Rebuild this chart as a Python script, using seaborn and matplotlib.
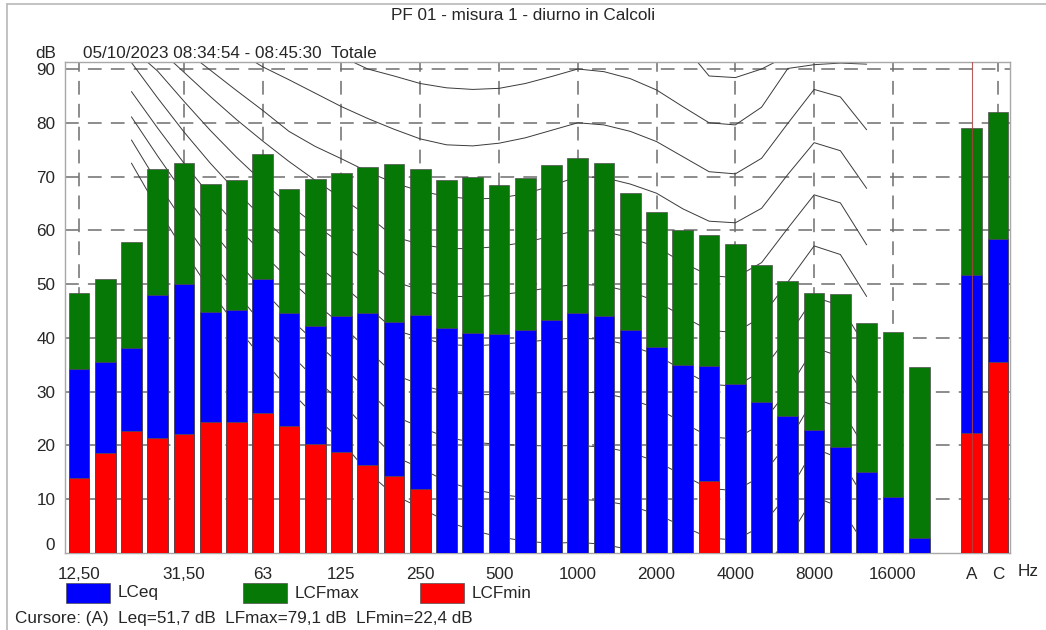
import numpy as np
import seaborn as sns
import matplotlib.pyplot as plt
from matplotlib.patches import Rectangle
from matplotlib.lines import Line2D

# third-octave bands, then the A and C overall values
bands = ["12,5", "16", "20", "25", "31,5", "40", "50", "63", "80", "100", "125", "160",
         "200", "250", "315", "400", "500", "630", "800", "1000", "1250", "1600", "2000",
         "2500", "3150", "4000", "5000", "6300", "8000", "10000", "12500", "16000", "20000"]
totals = ["A", "C"]

lcfmax = [48.4, 51.0, 57.9, 71.4, 72.6, 68.6, 69.3, 74.2, 67.6, 69.6, 70.7, 71.7, 72.3,
          71.4, 69.4, 70.0, 68.4, 69.7, 72.1, 73.4, 72.5, 67.0, 63.5, 60.0, 59.2, 57.5,
          53.5, 50.6, 48.3, 48.1, 42.8, 41.1, 34.6]
lceq = [34.3, 35.6, 38.2, 47.9, 50.1, 44.8, 45.1, 51.0, 44.7, 42.2, 44.0, 44.7, 43.0,
        44.3, 41.8, 40.9, 40.8, 41.4, 43.3, 44.7, 44.0, 41.4, 38.3, 34.9, 34.8, 31.4,
        28.0, 25.5, 22.9, 19.7, 15.1, 10.5, 2.7]
lcfmin = [13.9, 18.6, 22.6, 21.4, 22.1, 24.4, 24.3, 26.1, 23.7, 20.2, 18.7, 16.4, 14.3,
          11.9, None, None, None, None, None, None, None, None, None, None, 13.4, None,
          None, None, None, None, None, None, None]

tot_max = [79.1, 82.0]
tot_eq = [51.7, 58.4]
tot_min = [22.4, 35.6]

# equal loudness curves, 20 Hz .. 12500 Hz
curve_bands = bands[2:31]
phon_0 = [72.5, 64.0, 56.2, 48.8, 42.2, 36.0, 30.4, 25.4, 20.8, 15.0, 10.8, 8.4, 5.9, 4.2,
          3.0, 2.2, 1.8, 2.0, 1.6, 0.6, -1.0, -3.0, -5.0, -5.3, -3.0, 2.5, 10.5, 8.5, 1.0]
phon_10 = [76.8, 68.8, 61.4, 54.5, 48.3, 42.5, 37.2, 32.4, 28.0, 22.8, 18.0, 15.8, 13.3,
           11.8, 10.9, 10.3, 10.0, 10.0, 9.7, 8.8, 7.2, 5.0, 2.8, 2.4, 5.0, 11.0, 19.5, 17.5, 9.5]
phon_20 = [81.1, 73.8, 66.8, 60.3, 54.4, 48.9, 43.8, 39.2, 34.9, 30.2, 25.5, 23.4, 21.5,
           20.6, 20.2, 20.0, 19.9, 20.0, 19.7, 18.7, 17.0, 14.5, 12.0, 11.6, 14.3, 20.5, 28.8, 27.0, 19.0]
phon_30 = [85.8, 79.0, 72.5, 66.4, 60.8, 55.7, 50.9, 46.5, 42.4, 37.8, 33.2, 31.3, 29.9,
           29.4, 29.5, 29.7, 29.9, 30.0, 29.7, 28.6, 26.9, 24.3, 21.6, 21.2, 24.0, 30.3, 38.2, 36.5, 28.5]
phon_40 = [91.2, 84.6, 78.3, 72.5, 67.2, 62.3, 57.8, 53.7, 49.9, 45.8, 41.5, 40.0, 38.8,
           38.5, 38.8, 39.2, 39.7, 40.0, 39.7, 38.6, 36.8, 34.0, 31.4, 31.0, 33.8, 40.2, 47.6, 46.0, 38.0]
phon_50 = [93.9, 89.6, 84.0, 78.6, 73.6, 69.0, 64.8, 61.0, 57.5, 54.0, 50.5, 48.9, 47.8,
           47.6, 48.0, 48.6, 49.4, 50.0, 49.7, 48.6, 46.8, 44.0, 41.4, 41.0, 43.9, 50.4, 57.1, 55.5, 47.7]
phon_60 = [98.5, 93.9, 89.4, 84.9, 80.6, 76.6, 72.8, 69.3, 66.0, 62.7, 58.8, 57.4, 56.6,
           56.6, 57.0, 57.8, 58.9, 60.0, 59.8, 58.6, 56.9, 54.0, 51.6, 51.2, 54.0, 60.4, 66.6, 65.1, 57.3]
phon_70 = [100.5, 97.2, 93.6, 89.8, 86.0, 82.3, 78.4, 75.6, 73.3, 70.9, 68.8, 67.3, 66.3,
           65.8, 66.0, 66.8, 68.3, 70.0, 69.8, 68.6, 66.9, 64.0, 61.7, 61.4, 64.1, 70.4, 76.3, 74.8, 67.8]
phon_80 = [104.0, 101.0, 98.8, 96.5, 93.4, 90.4, 88.0, 85.5, 83.0, 80.8, 78.8, 77.0, 75.9,
           75.7, 76.2, 77.2, 78.6, 80.0, 79.6, 78.4, 76.5, 73.7, 70.9, 70.5, 73.4, 79.9, 86.2, 84.8, 78.7]
phon_90 = [None, None, None, None, None, None, None, 94.3, 92.3, 90.0, 88.7, 87.3, 86.5,
           86.2, 86.4, 87.3, 88.6, 90.0, 89.5, 88.2, 86.1, 83.0, 80.0, 79.6, 82.9, 90.1, 90.8, 91.1, 90.9]
phon_100 = [None] * 21 + [94.6, 88.7, 88.4, 90.0, 92.5, None, None, None]

curves = [phon_0, phon_10, phon_20, phon_30, phon_40, phon_50, phon_60, phon_70,
          phon_80, phon_90, phon_100]

tick_bands = ["12,5", "31,5", "63", "125", "250", "500", "1000", "2000", "4000", "8000", "16000"]
tick_text = ["12,50", "31,50", "63", "125", "250", "500", "1000", "2000", "4000", "8000", "16000"]

BLUE = "#0000ff"
GREEN = "#067806"
RED = "#ff0000"
GRID = "#6e6e6e"
FS = 12.3

sns.set_style("white")
plt.rcParams["font.family"] = ["Liberation Sans", "DejaVu Sans"]
plt.rcParams["font.size"] = FS

W, H = 1046, 630
fig = plt.figure(figsize=(W / 100, H / 100), dpi=100)


def px(x, y):
    return x / W, 1 - y / H


ax = fig.add_axes([65 / W, 1 - 553 / H, (1010 - 65) / W, (553 - 62) / H])

order = bands + ["gap"] + totals
pos = {c: i for i, c in enumerate(order)}

# reference lines first, bars go on top of them
for c in curves:
    ys = np.array([np.nan if v is None else v for v in c], dtype=float)
    ax.plot([pos[b] for b in curve_bands], ys, color="#3a3a3a", lw=0.7, zorder=1)

for yv in range(10, 91, 10):
    ax.axhline(yv, color=GRID, lw=1.1, dashes=(9, 6), zorder=0.5)
for b in tick_bands + ["C"]:
    ax.axvline(pos[b], color=GRID, lw=1.1, dashes=(9, 6), zorder=0.5)

cats = bands + totals
bar_kw = dict(order=order, width=0.79, saturation=1, errorbar=None,
              edgecolor="#505050", linewidth=0.5, ax=ax)
sns.barplot(x=cats, y=lcfmax + tot_max, color=GREEN, zorder=2, **bar_kw)
sns.barplot(x=cats, y=lceq + tot_eq, color=BLUE, zorder=3, **bar_kw)
min_cats = [c for c, v in zip(cats, lcfmin + tot_min) if v is not None]
min_vals = [v for v in lcfmin + tot_min if v is not None]
sns.barplot(x=min_cats, y=min_vals, color=RED, zorder=4, **bar_kw)

# cursor on A
ax.axvline(pos["A"], color="#b04040", lw=0.8, alpha=0.85, zorder=5)

ax.set_xlim(-0.53, 35.46)
ax.set_ylim(0, 91.3)
ax.set_xlabel("")
ax.set_ylabel("")
ax.set_yticks(range(0, 91, 10))
ax.set_yticklabels([str(v) for v in range(0, 91, 10)])
ax.get_yticklabels()[0].set_va("bottom")
ax.set_xticks([pos[b] for b in tick_bands] + [pos["A"], pos["C"]])
ax.set_xticklabels(tick_text + ["A", "C"])
ax.tick_params(axis="y", length=5, width=0.8, color="#808080", pad=2, labelsize=FS)
ax.tick_params(axis="x", length=2, width=0.8, color="#808080", pad=8, labelsize=FS)
for s in ax.spines.values():
    s.set_color("#a8a8a8")
    s.set_linewidth(1.0)

fig.text(*px(523, 15), "PF 01 - misura 1 - diurno in Calcoli", ha="center", va="center", fontsize=FS)
fig.text(*px(35, 53), "dB", ha="left", va="center", fontsize=FS)
fig.text(*px(83, 53), "05/10/2023 08:34:54 - 08:45:30  Totale", ha="left", va="center", fontsize=FS)
fig.text(*px(1018, 571), "Hz", ha="left", va="center", fontsize=FS)

legend_items = [("LCeq", BLUE, 66), ("LCFmax", GREEN, 243), ("LCFmin", RED, 420)]
for name, col, x0 in legend_items:
    fig.patches.append(Rectangle(px(x0, 603), 44 / W, 20 / H, transform=fig.transFigure,
                                 facecolor=col, edgecolor="#505050", lw=0.5))
    fig.text(*px(x0 + 52, 593), name, ha="left", va="center", fontsize=FS)

fig.text(*px(15, 618), "Cursore: (A)  Leq=51,7 dB  LFmax=79,1 dB  LFmin=22,4 dB",
         ha="left", va="center", fontsize=FS)

# thin outer frame (left and top edges show in the picture)
fig.lines.append(Line2D([7 / W, 7 / W], [0, 1 - 4 / H], transform=fig.transFigure, color="#b8b8b8", lw=1.2))
fig.lines.append(Line2D([7 / W, 1], [1 - 4 / H, 1 - 4 / H], transform=fig.transFigure, color="#b8b8b8", lw=1.2))

fig.savefig("out.png", dpi=100)
